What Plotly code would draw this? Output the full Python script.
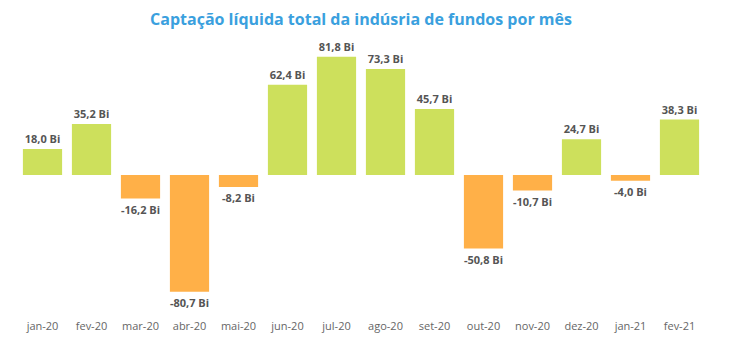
import plotly.graph_objects as go

months = ["jan-20", "fev-20", "mar-20", "abr-20", "mai-20", "jun-20", "jul-20",
          "ago-20", "set-20", "out-20", "nov-20", "dez-20", "jan-21", "fev-21"]
values = [18.0, 35.2, -16.2, -80.7, -8.2, 62.4, 81.8, 73.3, 45.7, -50.8, -10.7, 24.7, -4.0, 38.3]

GREEN = "#CDE05C"
ORANGE = "#FFB048"
colors = [GREEN if v >= 0 else ORANGE for v in values]

fig = go.Figure(go.Bar(
    x=months, y=values,
    marker=dict(color=colors, line=dict(width=0)),
    texttemplate="%{y:.1f} Bi",
    textposition="outside",
    textfont=dict(family="Open Sans", size=11, color="#555555", weight="bold"),
    constraintext="none",
    cliponaxis=False,
    hoverinfo="skip",
))

fig.update_layout(
    width=750, height=355,
    margin=dict(l=10, r=54, t=31, b=49),
    plot_bgcolor="white", paper_bgcolor="white",
    separators=",.",
    bargap=0.2,
    showlegend=False,
    title=dict(text="<b>Captação líquida total da indúsria de fundos por mês</b>",
               x=0.5, xref="paper", xanchor="center", y=0.968, yref="container", yanchor="middle",
               font=dict(family="Open Sans", size=16, color="#3AA0DE")),
    font=dict(family="Open Sans", size=11, color="#666666"),
)
fig.update_xaxes(showgrid=False, showline=False, zeroline=False, ticks="", automargin=False,
                 ticklabelstandoff=4,
                 tickfont=dict(family="Open Sans", size=11, color="#666666"))
fig.update_yaxes(range=[-96, 94], visible=False, showgrid=False, zeroline=False)

fig.write_html("out.html")
